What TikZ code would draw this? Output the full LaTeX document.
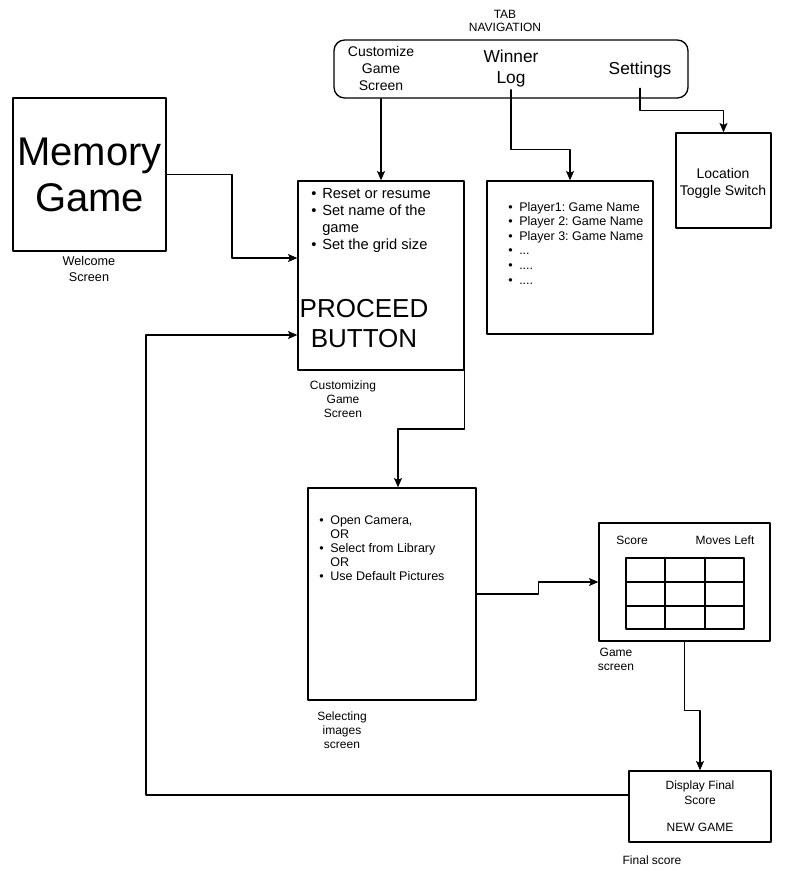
\documentclass[tikz,border=0pt]{standalone}
\usepackage{fontspec}
\setmainfont{Liberation Sans}
\usetikzlibrary{arrows.meta,calc}
\frenchspacing
\newcommand{\bul}{\makebox[8.25pt][l]{\textbullet}}
\newcommand{\ind}{\hspace*{8.25pt}}
\begin{document}
\begin{tikzpicture}[x=0.75pt,y=-0.75pt,line cap=round,line join=round,
  box/.style={draw,line width=1pt,inner sep=0pt},
  arr/.style={line width=1pt,-{Stealth[length=7pt,width=6pt,inset=1.5pt]}},
  lbl/.style={inner sep=0pt,align=center}]
\useasboundingbox (0,0) rectangle (799,886);

% boxes
\node[box,rounded corners=8pt,minimum width=265.5pt,minimum height=43.5pt] (tab) at (511,69) {};
\node[box,minimum width=114.75pt,minimum height=114.75pt,lbl,font=\fontsize{30}{34.5}\selectfont] (welcome) at (89.5,174.5) {Memory\\Game};
\node[box,minimum width=124.5pt,minimum height=141.75pt] (custom) at (381,275.5) {};
\node[box,minimum width=124.5pt,minimum height=114.75pt] (winner) at (570,257.5) {};
\node[box,minimum width=71.25pt,minimum height=71.25pt,lbl,font=\fontsize{10.5}{12.75}\selectfont] (location) at (723.5,180.5) {};
\node[box,minimum width=126pt,minimum height=159pt] (select) at (392,594) {};
\node[box,minimum width=128.25pt,minimum height=88.5pt] (game) at (684.5,582) {};
\node[box,minimum width=106.5pt,minimum height=53.25pt] (final) at (700,806.5) {};

% tab navigation
\node[lbl,font=\fontsize{9}{9.75}\selectfont] (tabname) at (505,20.5) {TAB\\NAVIGATION};
\node[lbl,font=\fontsize{10.5}{12.75}\selectfont] (tabcust) at (381,68) {Customize\\Game\\Screen};
\node[lbl,minimum height=30.75pt,font=\fontsize{13}{15.75}\selectfont] (winlog) at (511,69) {Winner\\Log};
\node[lbl,minimum height=27pt,font=\fontsize{13}{15.75}\selectfont] (settings) at (640,70) {Settings};

% texts in and under the screens
\node[lbl,font=\fontsize{10.5}{12.75}\selectfont] (locationtxt) at (723,183.5) {Location\\Toggle Switch};
\node[lbl,font=\fontsize{9.5}{12}\selectfont] (welcomelbl) at (89,269) {Welcome\\Screen};
\node[lbl,anchor=west,align=left,font=\fontsize{11}{12.75}\selectfont] (customlist) at (311,220.5)
  {\bul Reset or resume\\\bul Set name of the\\\ind game\\\bul Set the grid size};
\node[lbl,font=\fontsize{19.5}{22.5}\selectfont] (proceed) at (364,324) {PROCEED\\BUTTON};
\node[lbl,font=\fontsize{9}{10.5}\selectfont] (customlbl) at (343,399) {Customizing\\Game\\Screen};
\node[lbl,anchor=west,align=left,font=\fontsize{9.4}{10.95}\selectfont] (winlist) at (508,243)
  {\bul Player1: Game Name\\\bul Player 2: Game Name\\\bul Player 3: Game Name\\\bul ...\\\bul ....\\\bul ....};
\node[lbl,anchor=west,align=left,font=\fontsize{9.4}{10.5}\selectfont] (selectlist) at (319,548)
  {\bul Open Camera,\\\ind OR\\\bul Select from Library\\\ind OR\\\bul Use Default Pictures};
\node[lbl,font=\fontsize{9}{10.5}\selectfont] (selectlbl) at (342,730) {Selecting\\images\\screen};
\node[lbl,font=\fontsize{9}{10.5}\selectfont] (score) at (632,540) {Score};
\node[lbl,font=\fontsize{9}{10.5}\selectfont] (moves) at (725,540) {Moves Left};
\node[lbl,font=\fontsize{9}{10.5}\selectfont] (gamelbl) at (616,659) {Game\\screen};
\node[lbl,font=\fontsize{9}{11.25}\selectfont] (display) at (700,792.5) {Display Final\\Score};
\node[lbl,font=\fontsize{9}{11.25}\selectfont] (newgame) at (700,827) {NEW GAME};
\node[lbl,font=\fontsize{9}{11.25}\selectfont] (finallbl) at (652,860) {Final score};

% card grid
\draw[line width=1pt] (626,558) rectangle (744,629);
\foreach \x in {665,705} \draw[line width=1pt] (\x,558) -- (\x,629);
\foreach \y in {582,606} \draw[line width=1pt] (626,\y) -- (744,\y);

% connectors
\coordinate (j1) at (232,258);
\coordinate (j2) at (398,429);
\coordinate (j3) at (146,795);
\coordinate (j4) at (146,335);
\draw[arr] (tab.south -| tabcust) -- (custom.north -| tabcust);
\draw[arr] (winlog.south) -- ++(0,60) -| (winner.north);
\draw[arr] (settings.south) -- ++(0,22) -| (location.north);
\draw[arr] (welcome.east) -| (j1) -- (j1 -| custom.west);
\draw[arr] (custom.south east) |- (j2) -- (j2 |- select.north);
\draw[arr] (select.east) -- ++(62,0) |- (game.west);
\draw[arr] (game.south) -- ++(0,69) -| (final.north);
\draw[arr] (j3 -| final.west) -- (j3) -- (j4) -- (j4 -| custom.west);
\end{tikzpicture}
\end{document}
